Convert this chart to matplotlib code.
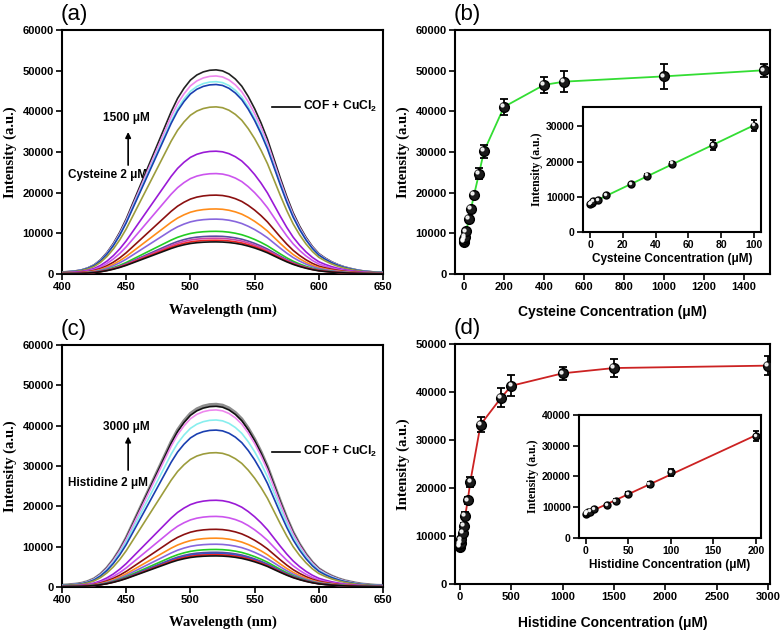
import matplotlib
matplotlib.use("Agg")
import matplotlib.pyplot as plt
from matplotlib.transforms import offset_copy
import numpy as np

plt.rcParams['font.family'] = ['Liberation Sans', 'DejaVu Sans']
plt.rcParams['font.weight'] = 'bold'
plt.rcParams['mathtext.default'] = 'regular'

wl = np.arange(400, 651, 5)
shape = [0.010, 0.012, 0.015, 0.020, 0.030, 0.045, 0.070, 0.105, 0.150, 0.205,
         0.270, 0.345, 0.420, 0.495, 0.570, 0.645, 0.720, 0.795, 0.860, 0.910,
         0.950, 0.975, 0.990, 0.998, 1.000, 0.995, 0.980, 0.955, 0.920, 0.870,
         0.810, 0.740, 0.660, 0.565, 0.470, 0.380, 0.300, 0.235, 0.180, 0.135,
         0.100, 0.078, 0.060, 0.046, 0.035, 0.027, 0.020, 0.015, 0.012, 0.009,
         0.008]

# peak intensities of spectra (bottom -> top)
a_peaks = [7900, 8300, 8800, 9300, 10500, 13500, 16000, 19400, 24700, 30200,
           41100, 46600, 47300, 48700, 50200]
a_colors = ['#111111', '#ee2222', '#cc44aa', '#5a4aa0', '#22cc22', '#8866dd', '#ff8c1a',
            '#8b1010', '#cc55ee', '#9a1ad6', '#9c9c3c', '#1a3fb0', '#88eeee', '#ee88ee',
            '#222222']
c_peaks = [7700, 8000, 8300, 8600, 9300, 10600, 12100, 14300, 17500, 21500,
           33300, 38900, 41400, 43900, 44800, 45300]
c_colors = ['#111111', '#ee2222', '#3355cc', '#5a4aa0', '#22cc22', '#8866dd', '#ff8c1a',
            '#8b1010', '#cc55ee', '#9a1ad6', '#9c9c3c', '#1a3fb0', '#88eeee', '#ee88ee',
            '#111111', '#8c8c8c']

# titration data
cys_conc = [0, 1, 2, 5, 10, 25, 35, 50, 75, 100, 200, 400, 500, 1000, 1500]
cys_int = [7900, 8100, 8700, 9100, 10500, 13500, 16000, 19400, 24700, 30200,
           41100, 46500, 47300, 48600, 50100]
cys_err = [300, 300, 500, 400, 400, 500, 600, 600, 1300, 1600,
           2000, 2000, 2500, 3000, 1600]
his_conc = [0, 1, 2, 5, 10, 25, 35, 50, 75, 100, 200, 400, 500, 1000, 1500, 3000]
his_int = [7700, 8000, 8300, 8600, 9300, 10700, 12100, 14200, 17400, 21300,
           33200, 38800, 41300, 43900, 45000, 45500]
his_err = [300, 300, 300, 300, 400, 500, 700, 700, 800, 1000,
           1500, 2000, 2200, 1400, 1800, 2000]

serif = ['Liberation Serif', 'DejaVu Serif']
fig = plt.figure(figsize=(7.83, 6.33), dpi=100)


def style(ax, fs=8.0):
    for s in ax.spines.values():
        s.set_linewidth(1.5)
    ax.tick_params(direction='out', length=4, width=1.2, labelsize=fs,
                   top=False, right=False, pad=2)
    for lab in ax.get_xticklabels() + ax.get_yticklabels():
        lab.set_fontweight('bold')


def spectra(ax, peaks, colors, title, top_txt, bot_txt, ann, xpad):
    shp = np.array(shape)
    for i, (p, c) in enumerate(zip(peaks, colors)):
        lw = 2.2 if c == '#8c8c8c' else 1.2
        ax.plot(wl, shp * p, color=c, lw=lw, zorder=10 - i * 0.01 if c != '#8c8c8c' else 1)
    ax.set_xlim(400, 650)
    ax.set_ylim(0, 60000)
    ax.set_xticks(range(400, 651, 50))
    ax.set_yticks(range(0, 60001, 10000))
    style(ax)
    ax.set_xlabel('Wavelength (nm)', family=serif, fontsize=10.5, fontweight='bold', labelpad=xpad)
    ax.set_ylabel('Intensity (a.u.)', family=serif, fontsize=10.5, fontweight='bold', labelpad=4)
    ax.text(-0.005, 1.02, title, transform=ax.transAxes, fontsize=16, fontweight='normal',
            ha='left', va='bottom')
    y_top, y_a0, y_a1, y_bot, y_leg = ann
    ax.text(450, y_top, top_txt, fontsize=8.5, fontweight='bold', ha='center', va='center')
    ax.annotate('', xy=(451.5, y_a1), xytext=(451.5, y_a0),
                arrowprops=dict(arrowstyle='-|>', color='black', lw=1.2, mutation_scale=8))
    ax.text(435.5, y_bot, bot_txt, fontsize=8.5, fontweight='bold', ha='center', va='center')
    ax.plot([563.5, 585.5], [y_leg, y_leg], color='black', lw=1.2)
    ax.text(587.5, y_leg, 'COF + CuCl$_\\mathregular{2}$', fontsize=8.7, fontweight='bold',
            ha='left', va='center')


def points(ax, x, y, err, color, ms, cap, lw_line=1.3, fit=False):
    if fit:
        k, b = np.polyfit(x, y, 1)
        xx = np.array([x[0], x[-1]])
        ax.plot(xx, k * xx + b, color=color, lw=lw_line, zorder=1)
    else:
        ax.plot(x, y, color=color, lw=lw_line, zorder=1)
    ax.errorbar(x, y, yerr=err, fmt='o', color='black', ms=ms, mfc='#1a1a1a', mec='black',
                ecolor='black', elinewidth=1.3, capsize=cap, capthick=1.3, zorder=3)
    hl = offset_copy(ax.transData, fig=fig, x=-ms * 0.18, y=ms * 0.18, units='points')
    ax.plot(x, y, 'o', ms=ms * 0.3, color='white', transform=hl, zorder=4, alpha=0.85)


# (a)
ax_a = fig.add_axes([0.0792, 0.5671, 0.4100, 0.3855])
spectra(ax_a, a_peaks, a_colors, '(a)', '1500 \u03bcM', 'Cysteine 2 \u03bcM',
        (38400, 26100, 35600, 24300, 41100), 8)

# (c)
ax_c = fig.add_axes([0.0792, 0.0727, 0.4100, 0.3823])
spectra(ax_c, c_peaks, c_colors, '(c)', '3000 \u03bcM', 'Histidine 2 \u03bcM',
        (39700, 28300, 38000, 25800, 33500), 7)

# (b)
ax_b = fig.add_axes([0.5811, 0.5671, 0.4023, 0.3855])
points(ax_b, cys_conc, cys_int, cys_err, '#33dd33', 7, 3)
ax_b.set_xlim(-45, 1530)
ax_b.set_ylim(0, 60000)
ax_b.set_xticks(range(0, 1401, 200))
ax_b.set_yticks(range(0, 60001, 10000))
style(ax_b)
ax_b.set_xlabel('Cysteine Concentration (\u03bcM)', fontsize=10, fontweight='bold', labelpad=9)
ax_b.set_ylabel('Intensity (a.u.)', family=serif, fontsize=10.5, fontweight='bold', labelpad=4)
ax_b.text(-0.005, 1.02, '(b)', transform=ax_b.transAxes, fontsize=16, fontweight='normal',
          ha='left', va='bottom')

ax_bi = fig.add_axes([0.7446, 0.6335, 0.2273, 0.1975])
points(ax_bi, cys_conc[:10], cys_int[:10], cys_err[:10], '#33dd33', 5, 2, fit=True)
ax_bi.set_xlim(-4.3, 104.3)
ax_bi.set_ylim(0, 35500)
ax_bi.set_xticks(range(0, 101, 20))
ax_bi.set_yticks(range(0, 30001, 10000))
style(ax_bi, fs=7.5)
ax_bi.set_xlabel('Cysteine Concentration (\u03bcM)', fontsize=8.5, fontweight='bold', labelpad=2)
ax_bi.set_ylabel('Intensity (a.u.)', family=serif, fontsize=8.5, fontweight='bold', labelpad=2)

# (d)
ax_d = fig.add_axes([0.5811, 0.0774, 0.4023, 0.3791])
points(ax_d, his_conc, his_int, his_err, '#cc2222', 7, 3)
ax_d.set_xlim(-49, 3019)
ax_d.set_ylim(0, 50000)
ax_d.set_xticks(range(0, 3001, 500))
ax_d.set_yticks(range(0, 50001, 10000))
style(ax_d)
ax_d.set_xlabel('Histidine Concentration (\u03bcM)', fontsize=10, fontweight='bold', labelpad=10)
ax_d.set_ylabel('Intensity (a.u.)', family=serif, fontsize=10.5, fontweight='bold', labelpad=4)
ax_d.text(-0.005, 1.02, '(d)', transform=ax_d.transAxes, fontsize=16, fontweight='normal',
          ha='left', va='bottom')

ax_di = fig.add_axes([0.7395, 0.1501, 0.2324, 0.1943])
points(ax_di, his_conc[:11], his_int[:11], his_err[:11], '#cc2222', 5, 2, fit=True)
ax_di.set_xlim(-8, 206)
ax_di.set_ylim(0, 40000)
ax_di.set_xticks(range(0, 201, 50))
ax_di.set_yticks(range(0, 40001, 10000))
style(ax_di, fs=7.5)
ax_di.set_xlabel('Histidine Concentration (\u03bcM)', fontsize=8.5, fontweight='bold', labelpad=2)
ax_di.set_ylabel('Intensity (a.u.)', family=serif, fontsize=8.5, fontweight='bold', labelpad=2)

fig.savefig('out.png', dpi=100)
